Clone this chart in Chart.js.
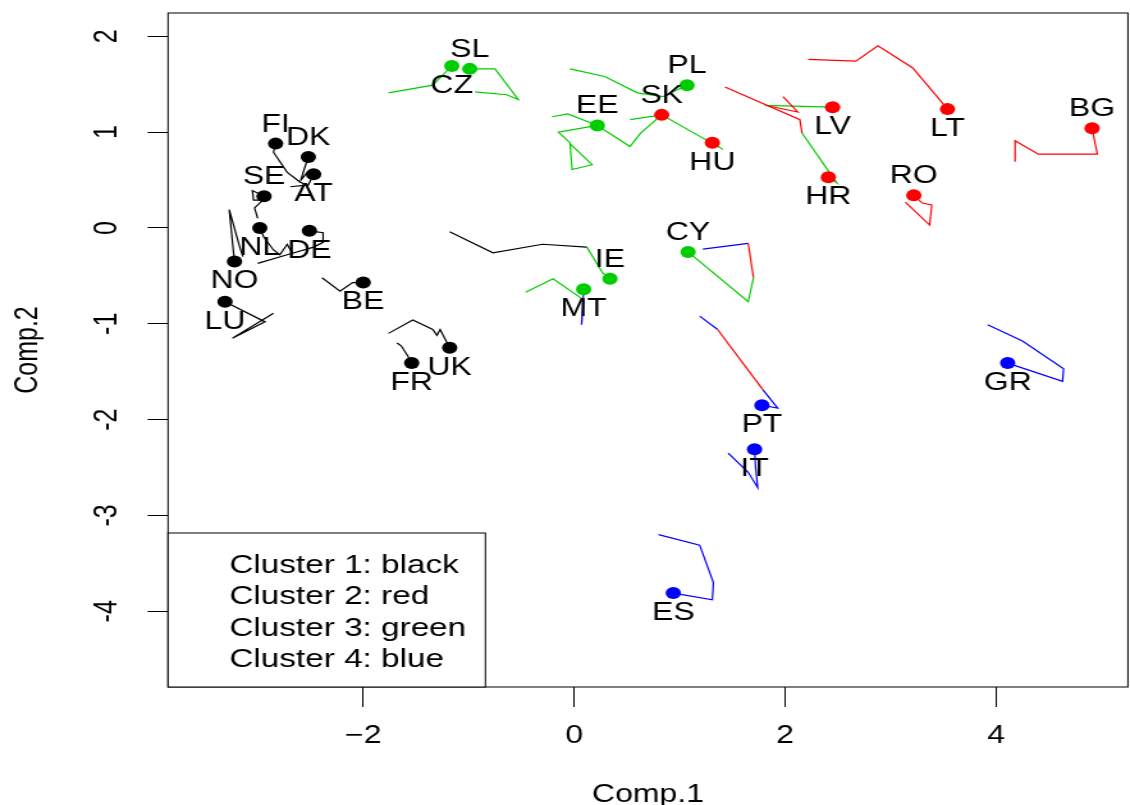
<!DOCTYPE html>
<html>
<head>
<meta charset="utf-8">
<script src="https://cdn.jsdelivr.net/npm/chart.js@4.4.0/dist/chart.umd.min.js"></script>
<style>
  html, body { margin: 0; padding: 0; background: #fff; overflow: hidden; }
  /* the source picture was stretched sideways, so draw narrow and widen it */
  #wrap { width: 883px; height: 805px; transform: scaleX(1.2797); transform-origin: 0 0; }
</style>
</head>
<body>
<div id="wrap"><canvas id="pca" width="883" height="805"></canvas></div>
<script>
// countries, their cluster and current position on the first two components
const countries = ["FI","DK","AT","SE","NL","DE","NO","LU","BE","FR","UK",
                   "SK","HU","LV","LT","HR","RO","BG",
                   "CZ","SL","PL","EE","IE","MT","CY",
                   "PT","IT","GR","ES"];
const cluster = [1,1,1,1,1,1,1,1,1,1,1, 2,2,2,2,2,2,2, 3,3,3,3,3,3,3, 4,4,4,4];
const comp1 = [-2.83,-2.52,-2.47,-2.94,-2.98,-2.51,-3.22,-3.31,-2.00,-1.54,-1.18,
               0.83,1.31,2.45,3.54,2.41,3.22,4.91,
               -1.16,-0.99,1.07,0.22,0.34,0.09,1.08,
               1.78,1.71,4.11,0.94];
const comp2 = [0.88,0.74,0.56,0.33,0.00,-0.03,-0.35,-0.77,-0.57,-1.41,-1.25,
               1.18,0.89,1.26,1.24,0.53,0.34,1.04,
               1.69,1.66,1.49,1.07,-0.53,-0.64,-0.25,
               -1.85,-2.31,-1.41,-3.81];

// earlier positions (going back in time) and the cluster of each step
const trail = [
  [[-2.85,0.79],[-2.72,0.58],[-2.60,0.48],[-2.52,0.44]],
  [[-2.56,0.61],[-2.59,0.50],[-2.53,0.58],[-2.48,0.58]],
  [[-2.52,0.45],[-2.69,0.43]],
  [[-3.05,0.39],[-3.04,0.29],[-2.95,0.29],[-3.03,0.21],[-3.00,0.10]],
  [[-2.94,-0.10],[-2.85,-0.23],[-2.79,-0.28],[-2.72,-0.17],[-2.67,-0.27]],
  [[-2.38,-0.05],[-2.38,-0.15],[-2.47,-0.20],[-2.72,-0.28],[-3.00,-0.37]],
  [[-3.23,-0.25],[-3.27,0.19],[-3.17,-0.20],[-3.14,-0.30]],
  [[-2.93,-0.98],[-3.24,-1.15],[-2.85,-0.89]],
  [[-2.10,-0.57],[-2.22,-0.66],[-2.39,-0.52]],
  [[-1.58,-1.33],[-1.64,-1.23],[-1.68,-1.20]],
  [[-1.27,-1.06],[-1.30,-1.12],[-1.34,-1.06],[-1.53,-0.96],[-1.76,-1.10]],
  [[0.63,0.99],[0.53,0.85],[0.22,1.07],[-0.06,1.19],[-0.21,1.16]],
  [[1.41,0.82],[0.83,1.18],[0.53,1.13]],
  [[1.81,1.28],[2.12,1.21],[1.98,1.37]],
  [[3.21,1.67],[2.88,1.90],[2.67,1.74],[2.22,1.76]],
  [[2.49,0.47],[2.16,0.99],[2.14,1.13],[1.43,1.47]],
  [[3.30,0.26],[3.39,0.24],[3.37,0.03],[3.14,0.27]],
  [[4.96,0.77],[4.40,0.77],[4.18,0.91],[4.18,0.69]],
  [[-1.34,1.49],[-1.76,1.41]],
  [[-0.75,1.66],[-0.53,1.34],[-0.64,1.39],[-0.94,1.42]],
  [[0.84,1.37],[0.60,1.41],[0.29,1.58],[-0.04,1.66]],
  [[-0.15,1.00],[-0.04,0.89],[-0.02,0.61],[0.17,0.66],[-0.04,0.88]],
  [[0.27,-0.47],[0.12,-0.20],[-0.30,-0.17],[-0.77,-0.26],[-1.18,-0.04]],
  [[0.07,-1.01],[0.09,-0.75],[-0.20,-0.53],[-0.46,-0.67]],
  [[1.65,-0.77],[1.70,-0.52],[1.65,-0.16],[1.22,-0.22]],
  [[1.93,-1.88],[1.79,-1.69],[1.36,-1.06],[1.19,-0.92]],
  [[1.72,-2.50],[1.74,-2.71],[1.65,-2.55],[1.46,-2.35]],
  [[4.63,-1.60],[4.64,-1.47],[4.25,-1.18],[3.92,-1.01]],
  [[1.31,-3.88],[1.32,-3.70],[1.19,-3.31],[0.80,-3.20]]
];
const trailCluster = [
  [1,1,1,1],[1,1,1,1],[1,1],[1,1,1,1,1],[1,1,1,1,1],[1,1,1,1,1],[1,1,1,1],
  [1,1,1],[1,1,1],[1,1,1],[1,1,1,1,1],
  [3,3,3,3,3],[3,3,3],[3,2,2],[2,2,2,2],[3,3,2,2],[2,2,2,2],[2,2,2,2],
  [3,3],[3,3,3,3],[3,3,3,3],[3,3,3,3,3],[3,3,1,1,1],[4,4,3,3],[3,3,2,4],
  [4,4,2,4],[4,4,4,4],[4,4,4,4],[4,4,4,4]
];

const xTicks = [-2, 0, 2, 4];
const yTicks = [-4, -3, -2, -1, 0, 1, 2];
const legendText = ["Cluster 1: black", "Cluster 2: red", "Cluster 3: green", "Cluster 4: blue"];

// styles
const clusterCol = { 1: "#000000", 2: "#ff0000", 3: "#00cd00", 4: "#0000ff" };
const labelAbove = ["FI","DK","SE","SL","PL","EE","SK","RO","BG","IE","CY"];
const FONT = "'Liberation Sans', Arial, sans-serif";
const FS = 25;

const datasets = [];
countries.forEach((c, i) => {
  const pts = [[comp1[i], comp2[i]]].concat(trail[i]).map(p => ({ x: p[0], y: p[1] }));
  datasets.push({
    type: 'line',
    label: c,
    data: pts,
    order: 1,
    borderWidth: 1.2,
    pointRadius: 0,
    fill: false,
    tension: 0,
    segment: { borderColor: ctx => clusterCol[trailCluster[i][ctx.p0DataIndex]] }
  });
});
datasets.push({
  type: 'scatter',
  label: 'countries',
  data: countries.map((c, i) => ({ x: comp1[i], y: comp2[i] })),
  order: 0,
  pointRadius: 6,
  pointBorderWidth: 0,
  pointBackgroundColor: cluster.map(k => clusterCol[k])
});
const dotIndex = datasets.length - 1;

const rPlot = {
  id: 'rPlot',
  afterDatasetsDraw(chart) {
    const ctx = chart.ctx;
    const meta = chart.getDatasetMeta(dotIndex);
    ctx.save();
    ctx.fillStyle = '#000';
    ctx.font = FS + 'px ' + FONT;
    ctx.textAlign = 'center';
    ctx.textBaseline = 'middle';
    countries.forEach((c, i) => {
      const p = meta.data[i];
      const dy = labelAbove.includes(c) ? -19 : 20;
      ctx.fillText(c, p.x, p.y + dy);
    });
    ctx.restore();
  },
  afterDraw(chart) {
    const ctx = chart.ctx;
    const a = chart.chartArea;
    const ys = chart.scales.y;
    ctx.save();
    ctx.strokeStyle = '#000';
    ctx.lineWidth = 1;
    ctx.strokeRect(a.left, a.top, a.right - a.left, a.bottom - a.top);

    // rotated y tick labels, as R draws them
    ctx.fillStyle = '#000';
    ctx.font = FS + 'px ' + FONT;
    ctx.textAlign = 'center';
    ctx.textBaseline = 'middle';
    yTicks.forEach(v => {
      ctx.save();
      ctx.translate(a.left - 47, ys.getPixelForValue(v));
      ctx.rotate(-Math.PI / 2);
      ctx.fillText(String(v), 0, 0);
      ctx.restore();
    });

    // legend box in the bottom-left corner
    const bw = 248, bh = 154;
    ctx.fillStyle = '#fff';
    ctx.fillRect(a.left, a.bottom - bh, bw, bh);
    ctx.strokeRect(a.left, a.bottom - bh, bw, bh);
    ctx.fillStyle = '#000';
    ctx.font = '26px ' + FONT;
    ctx.textAlign = 'left';
    legendText.forEach((t, i) => {
      ctx.fillText(t, a.left + 48, a.bottom - bh + 33 + i * 31.3);
    });
    ctx.restore();
  }
};

new Chart(document.getElementById('pca'), {
  data: { datasets: datasets },
  options: {
    responsive: false,
    animation: false,
    events: [],
    layout: { autoPadding: false, padding: { top: 13, right: 1.6, left: 0, bottom: 0 } },
    plugins: { legend: { display: false }, tooltip: { enabled: false } },
    scales: {
      x: {
        type: 'linear',
        min: -3.85,
        max: 5.25,
        afterBuildTicks: s => { s.ticks = xTicks.map(v => ({ value: v })); },
        afterFit: s => { s.height = 118; s.paddingLeft = 0; s.paddingRight = 0; },
        border: { display: false },
        grid: { drawOnChartArea: false, drawTicks: true, tickLength: 20, tickColor: '#000', tickWidth: 1 },
        ticks: {
          color: '#000', padding: 14, maxRotation: 0,
          font: { family: FONT, size: FS },
          callback: v => (v < 0 ? '\u2212' + Math.abs(v) : String(v))
        },
        title: { display: true, text: 'Comp.1', color: '#000', font: { family: FONT, size: FS }, padding: { top: 0, bottom: -5 } }
      },
      y: {
        type: 'linear',
        min: -4.79,
        max: 2.243,
        afterBuildTicks: s => { s.ticks = yTicks.map(v => ({ value: v })); },
        afterFit: s => { s.width = 131.3; },
        border: { display: false },
        grid: { drawOnChartArea: false, drawTicks: true, tickLength: 16, tickColor: '#000', tickWidth: 1 },
        ticks: { display: false },
        title: { display: true, text: 'Comp.2', color: '#000', font: { family: FONT, size: FS }, padding: { top: 7, bottom: 0 } }
      }
    }
  },
  plugins: [rPlot]
});
</script>
</body>
</html>
